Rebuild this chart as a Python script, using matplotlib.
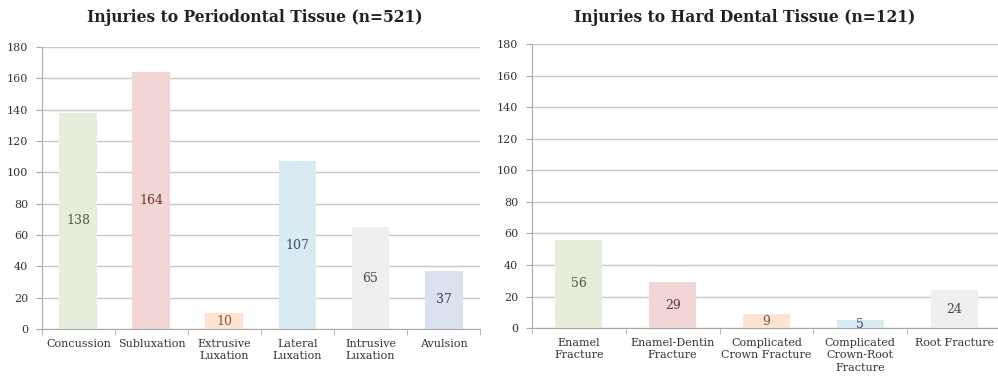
import matplotlib
matplotlib.use("Agg")
import matplotlib.pyplot as plt
import numpy as np

perio_labels = ["Concussion", "Subluxation", "Extrusive\nLuxation", "Lateral\nLuxation", "Intrusive\nLuxation", "Avulsion"]
perio_values = [138, 164, 10, 107, 65, 37]
hard_labels = ["Enamel\nFracture", "Enamel-Dentin\nFracture", "Complicated\nCrown Fracture", "Complicated\nCrown-Root\nFracture", "Root Fracture"]
hard_values = [56, 29, 9, 5, 24]
y_ticks = [0, 20, 40, 60, 80, 100, 120, 140, 160, 180]

perio_colors = ["#e6eedb", "#f2d6d6", "#fde4d2", "#d8eaf2", "#efefef", "#d9e2ee"]
perio_text = ["#4b5e34", "#6e3434", "#7a5a3a", "#2f4f62", "#4a4a4a", "#2f3f5c"]
hard_colors = ["#e6eedb", "#f2d6d6", "#fde4d2", "#d8eaf2", "#efefef"]
hard_text = ["#4b5e34", "#6e3434", "#7a5a3a", "#2f4f62", "#4a4a4a"]

plt.rcParams['font.family'] = ['DejaVu Serif']

fig = plt.figure(figsize=(9.98, 3.87), dpi=100)
ax1 = fig.add_axes([0.042, 0.150, 0.439, 0.729])
ax2 = fig.add_axes([0.533, 0.152, 0.470, 0.734])

def draw(ax, labels, values, colors, tcolors, barw):
    n = len(values)
    x = np.arange(n)
    ax.bar(x, values, width=barw, color=colors, zorder=2)
    for xi, v, tc in zip(x, values, tcolors):
        ax.text(xi, v / 2, str(v), ha='center', va='center', fontsize=9, color=tc, zorder=3)
    ax.set_xlim(-0.5, n - 0.5)
    ax.set_ylim(0, 180)
    ax.set_yticks(y_ticks)
    ax.set_yticklabels([str(t) for t in y_ticks], fontsize=8, color="#333333")
    ax.set_xticks(x)
    ax.set_xticklabels(labels, fontsize=8.0, color="#333333", linespacing=1.3)
    ax.set_xticks(np.arange(n + 1) - 0.5, minor=True)
    ax.tick_params(axis='x', which='major', length=0, pad=7)
    ax.tick_params(axis='x', which='minor', length=4, color="#aaaaaa", direction='out')
    ax.tick_params(axis='y', length=4, color="#aaaaaa", pad=6)
    ax.grid(axis='y', color="#c8c8c8", linewidth=1.0, zorder=0)
    ax.set_axisbelow(True)
    for s in ['top', 'right']:
        ax.spines[s].set_visible(False)
    for s in ['left', 'bottom']:
        ax.spines[s].set_color("#aaaaaa")
        ax.spines[s].set_linewidth(0.8)

draw(ax1, perio_labels, perio_values, perio_colors, perio_text, 0.52)
draw(ax2, hard_labels, hard_values, hard_colors, hard_text, 0.5)

fig.text(255 / 998, 1 - 17 / 387, "Injuries to Periodontal Tissue (n=521)", ha='center', va='center',
         fontsize=11.2, fontweight='bold', color="#222222")
fig.text(745 / 998, 1 - 18 / 387, "Injuries to Hard Dental Tissue (n=121)", ha='center', va='center',
         fontsize=11.2, fontweight='bold', color="#222222")

fig.savefig("out.png", dpi=100)
